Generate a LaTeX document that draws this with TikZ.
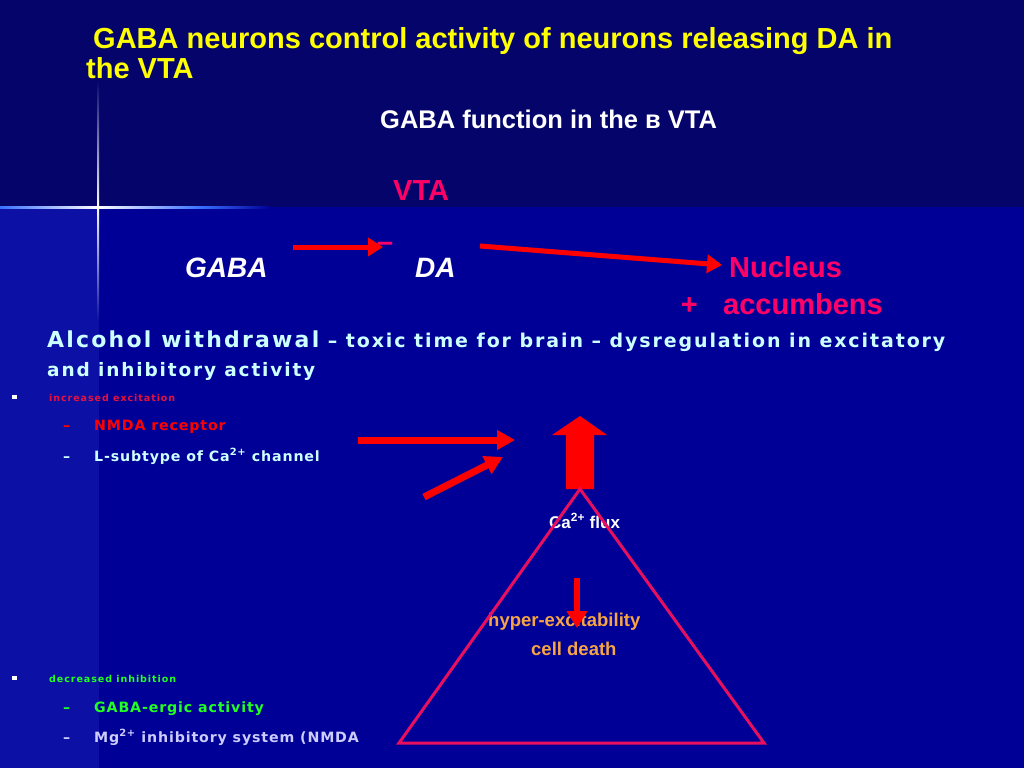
\documentclass[tikz,border=0pt]{standalone}
\usepackage{fontspec}
\setmainfont{Liberation Sans}
\newfontfamily\widefont[LetterSpace=10]{DejaVu Sans}
\newfontfamily\listfont[LetterSpace=6]{DejaVu Sans}
\usetikzlibrary{positioning,arrows.meta,calc}
\definecolor{vtaBand}{HTML}{04046A}
\definecolor{vtaBody}{HTML}{000096}
\definecolor{vtaStrip}{HTML}{0C10A4}
\definecolor{vtaGlow}{HTML}{3A70FF}
\definecolor{vtaYellow}{HTML}{FFFF00}
\definecolor{vtaRose}{HTML}{FF0066}
\definecolor{vtaEdge}{HTML}{E8105E}
\definecolor{vtaRed}{HTML}{FF0000}
\definecolor{vtaCyan}{HTML}{CCFFFF}
\definecolor{vtaCrimson}{HTML}{E8103C}
\definecolor{vtaOrange}{HTML}{F7A445}
\definecolor{vtaGreen}{HTML}{22FF22}
\definecolor{vtaLilac}{HTML}{CCCCFF}
\newcommand{\caion}{Ca\textsuperscript{2+}}
\newcommand{\mgion}{Mg\textsuperscript{2+}}
\newcommand{\dashitem}{\makebox[31pt][l]{–}}
\newcommand{\squareitem}{\makebox[37pt][l]{\textcolor{white}{\rule[2pt]{4.5pt}{4.5pt}}}}
\tikzset{
  headline/.style  = {font=\bfseries\fontsize{29}{30}\selectfont, text=vtaYellow,
                      align=left, inner sep=0pt, anchor=base west},
  subhead/.style   = {font=\bfseries\fontsize{25.5}{28}\selectfont, text=white,
                      inner sep=0pt, anchor=base west},
  region/.style    = {font=\bfseries\fontsize{29}{33}\selectfont, text=vtaRose,
                      inner sep=0pt, anchor=base west},
  cellname/.style  = {font=\bfseries\itshape\fontsize{28}{32}\selectfont, text=white,
                      inner sep=0pt, anchor=base west},
  lead/.style      = {font=\widefont\bfseries\fontsize{19}{29}\selectfont, text=vtaCyan,
                      align=left, inner sep=0pt, anchor=base west},
  tag/.style       = {font=\widefont\bfseries\fontsize{9.5}{12}\selectfont,
                      inner sep=0pt, anchor=base west},
  entry/.style     = {font=\listfont\bfseries\fontsize{14.2}{18}\selectfont,
                      inner sep=0pt, anchor=base west},
  effect/.style    = {font=\bfseries\fontsize{18.5}{22}\selectfont, text=vtaOrange,
                      inner sep=0pt, anchor=base west},
  redarrow/.style  = {-{Triangle[length=15pt, width=18pt]}, line width=5pt, draw=vtaRed},
  fatarrow/.style  = {-{Triangle[length=18pt, width=19pt]}, line width=7pt, draw=vtaRed},
  droparrow/.style = {-{Triangle[length=17pt, width=20pt]}, line width=5.5pt, draw=vtaRed},
}
\begin{document}
\begin{tikzpicture}[x=1pt, y=-1pt]
  \useasboundingbox (0,0) rectangle (1024,768);
  \fill[vtaBody] (0,207) rectangle (1024,768);
  \fill[vtaStrip] (0,207) rectangle (99,768);
  \fill[vtaBand] (0,0) rectangle (1024,207);
  \shade[left color=vtaGlow, right color=white] (0,206) rectangle (98,208.5);
  \shade[left color=white, right color=vtaGlow] (98,206) rectangle (200,208.5);
  \shade[left color=vtaGlow, right color=vtaBody] (200,206) rectangle (270,208.5);
  \shade[top color=vtaBand, bottom color=white] (97.3,80) rectangle (99.2,207);
  \shade[top color=white, bottom color=vtaStrip] (97.3,207) rectangle (99.2,320);

  \node[headline] (title) at (86,78)
    {\hspace*{7pt}GABA neurons control activity of neurons releasing DA in\\the VTA};
  \node[subhead] (subtitle) at (380,128) {GABA function in the в VTA};
  \node[region] (vta) at (393,200) {VTA};

  \node[cellname] (gaba) at (185,277) {GABA};
  \node[cellname] (da) at (415,277) {DA};
  \node[region] (nucleus) at (729,277) {Nucleus};
  \node[region] (accumbens) at (723,314) {accumbens};
  \node[region, left=25pt of accumbens.base west, anchor=base east] (plus) {+};
  \node[region] (minus) at (377,251) {–};

  \coordinate (gabaTail) at (293,247);
  \coordinate (gabaHead) at (383,247);
  \coordinate (daTail) at (480,246);
  \coordinate (daHead) at (722,265);
  \draw[redarrow] (gabaTail) -- (gabaHead);
  \draw[redarrow] (daTail) -- (daHead);

  \node[lead] (withdrawal) at (47,376)
    {{\fontsize{22}{29}\selectfont Alcohol withdrawal} – toxic time for brain – dysregulation in excitatory\\
     \fontsize{18.5}{29}\selectfont and inhibitory activity};

  \node[tag, text=vtaCrimson] (excite) at (12,401) {\squareitem increased excitation};
  \node[entry, text=vtaRed] (nmda) at (63,430) {\dashitem NMDA receptor};
  \node[entry, text=vtaCyan] (ltype) at (63,461) {\dashitem L-subtype of \caion{} channel};

  \node[tag, text=vtaGreen] (inhibit) at (12,682) {\squareitem decreased inhibition};
  \node[entry, text=vtaGreen] (gabaergic) at (63,712) {\dashitem GABA-ergic activity};
  \node[entry, text=vtaLilac] (mgblock) at (63,742) {\dashitem \mgion{} inhibitory system (NMDA};

  \node[effect, text=white, font=\bfseries\fontsize{17}{20}\selectfont] (flux) at (549,528) {\caion{} flux};
  \node[effect] (hyper) at (488,626) {hyper-excitability};
  \node[effect] (death) at (531,655) {cell death};

  \coordinate (nmdaTail) at (358,440);
  \coordinate (fluxIn) at (515,440);
  \coordinate (ltypeTail) at (424,497);
  \coordinate (fluxInLow) at (503,457);
  \draw[fatarrow] (nmdaTail) -- (fluxIn);
  \draw[fatarrow] (ltypeTail) -- (fluxInLow);

  \coordinate (apex) at (580,489);
  \fill[vtaRed] (566,489) -- (594,489) -- (594,435) -- (607,435) -- (580,416)
    -- (552,435) -- (566,435) -- cycle;
  \draw[vtaEdge, line width=3pt, line join=miter] (apex) -- (399,743) -- (764,743) -- cycle;

  \coordinate (dropTop) at (577,578);
  \coordinate (dropEnd) at (577,628);
  \draw[droparrow] (dropTop) -- (dropEnd);
\end{tikzpicture}
\end{document}
